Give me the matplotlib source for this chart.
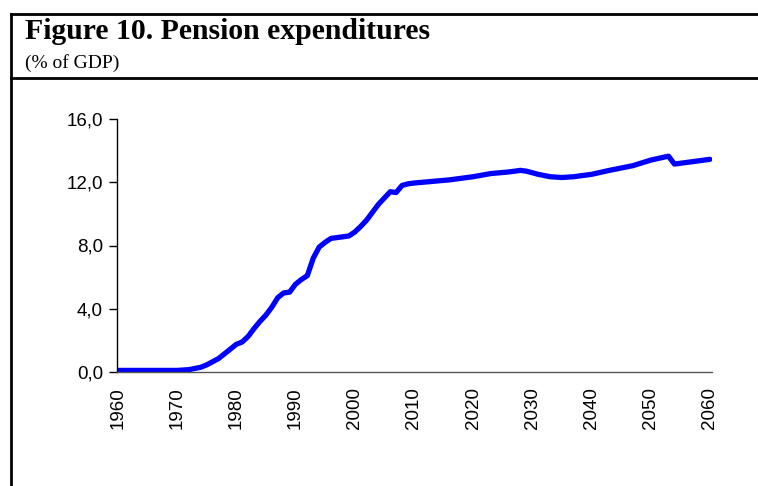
import matplotlib
matplotlib.use("Agg")
from matplotlib import pyplot as plt
from matplotlib.lines import Line2D

# values (pension expenditures, % of GDP)
years = [1960, 1965, 1970, 1972, 1974, 1975, 1976, 1977, 1978, 1979,
         1980, 1981, 1982, 1983, 1984, 1985, 1986, 1987, 1988, 1989,
         1990, 1991, 1992, 1993, 1994, 1995, 1996, 1997, 1998, 1999,
         2000, 2001, 2002, 2003, 2004, 2005, 2006, 2007, 2008, 2009,
         2010, 2013, 2016, 2020, 2023, 2026, 2028, 2029, 2031, 2033,
         2035, 2037, 2040, 2043, 2047, 2050, 2053, 2054, 2057, 2060]
pension = [0.10, 0.10, 0.10, 0.15, 0.30, 0.45, 0.65, 0.85, 1.15, 1.45,
           1.75, 1.90, 2.25, 2.75, 3.20, 3.60, 4.10, 4.70, 5.00, 5.05,
           5.55, 5.85, 6.10, 7.20, 7.90, 8.20, 8.45, 8.50, 8.55, 8.60,
           8.85, 9.20, 9.60, 10.10, 10.60, 11.00, 11.40, 11.35, 11.80, 11.90,
           11.95, 12.05, 12.15, 12.35, 12.55, 12.65, 12.75, 12.70, 12.50, 12.35,
           12.30, 12.35, 12.50, 12.75, 13.05, 13.40, 13.65, 13.15, 13.30, 13.45]

yticks = [0, 4, 8, 12, 16]
xticks = list(range(1960, 2061, 10))

title = "Figure 10. Pension expenditures"
subtitle = "(% of GDP)"

W, H = 758, 486
fig = plt.figure(figsize=(W / 100, H / 100), dpi=100)

# frame lines around the figure box
fig.add_artist(Line2D([10.5 / W, 1.0], [1 - 14 / H, 1 - 14 / H], color="black", lw=2.0))
fig.add_artist(Line2D([10.5 / W, 1.0], [1 - 78 / H, 1 - 78 / H], color="black", lw=2.0))
fig.add_artist(Line2D([10.5 / W, 10.5 / W], [0.0, 1 - 14 / H], color="black", lw=2.0))

fig.text(25 / W, 1 - 38.5 / H, title, fontsize=21.4, fontweight="bold",
         family="Liberation Serif", va="baseline", ha="left")
fig.text(25 / W, 1 - 68 / H, subtitle, fontsize=14,
         family="Liberation Serif", va="baseline", ha="left")

ax = fig.add_axes([117 / W, 1 - 372 / H, (712 - 117) / W, (372 - 119) / H])
ax.plot(years, pension, color="#0000ff", lw=3.8, solid_capstyle="round",
        solid_joinstyle="round")

ax.set_xlim(1959.85, 2060.35)
ax.set_ylim(0, 16)
ax.set_yticks(yticks)
ax.yaxis.set_major_formatter(plt.FuncFormatter(lambda v, p: ("%.1f" % v).replace(".", ",")))
ax.set_xticks(xticks)
ax.set_xticklabels([str(x) for x in xticks], rotation=90)

for s in ["top", "right"]:
    ax.spines[s].set_visible(False)
ax.spines["left"].set_color("black")
ax.spines["bottom"].set_color("#555555")
ax.spines["left"].set_linewidth(1.0)
ax.spines["bottom"].set_linewidth(1.0)
ax.tick_params(axis="y", direction="out", length=6, width=1.0, pad=4,
               labelsize=13.5)
ax.tick_params(axis="x", length=0, pad=11, labelsize=13.5)
for lbl in ax.get_xticklabels() + ax.get_yticklabels():
    lbl.set_family("Liberation Sans")

fig.savefig("out.png", dpi=100)
